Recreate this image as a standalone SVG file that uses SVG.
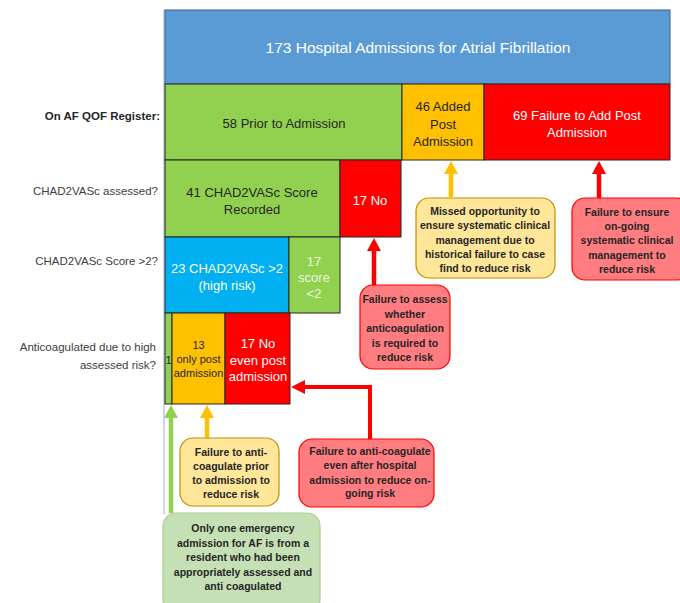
<svg xmlns="http://www.w3.org/2000/svg" width="680" height="603" viewBox="0 0 680 603">
<style>
text{font-family:"Liberation Sans",Arial,sans-serif;text-anchor:middle;dominant-baseline:central}
.lbl{font-size:11.5px;fill:#404040;text-anchor:end}
.box{stroke:#262626;stroke-width:1}
.bt{font-size:13px}
.ct{font-size:10.5px;font-weight:bold;fill:#262626}
.w{fill:#ffffff}
.d{fill:#262626}
.co{fill:#FFE699;stroke:#BF9000;stroke-width:1.2}
.cr{fill:#FF7C80;stroke:#FF0000;stroke-width:1.2}
.cg{fill:#C5E0B4;stroke:#A9D18E;stroke-width:1.2}
</style>
<rect width="680" height="603" fill="#ffffff"/>
<line x1="164" y1="10" x2="164" y2="514" stroke="#B4C7E7" stroke-width="1.5"/>
<g id="labels">
<text class="lbl" x="160" y="116" style="font-weight:bold;fill:#262626">On AF QOF Register:</text>
<text class="lbl" x="158" y="191">CHAD2VASc assessed?</text>
<text class="lbl" x="158" y="261">CHAD2VASc Score &gt;2?</text>
<text class="lbl" x="156" y="347">Anticoagulated due to high</text>
<text class="lbl" x="156" y="365">assessed risk?</text>
</g>
<g id="n-total"><rect class="box" x="165" y="10" width="505" height="74" fill="#5B9BD5" style="stroke:#3A5E8C"/><text class="w" x="418" y="47" font-size="15.5">173 Hospital Admissions for Atrial Fibrillation</text></g>
<g id="n-prior"><rect class="box" x="165" y="84" width="237" height="76" fill="#92D050"/><text class="bt d" x="284" y="123">58 Prior to Admission</text></g>
<g id="n-added"><rect class="box" x="402" y="84" width="82" height="76" fill="#FFC000"/><text class="bt d" x="443" y="106">46 Added</text><text class="bt d" x="443" y="124">Post</text><text class="bt d" x="443" y="141">Admission</text></g>
<g id="n-failadd"><rect class="box" x="484" y="84" width="186" height="76" fill="#FF0000"/><text class="bt w" x="577" y="115">69 Failure to Add Post</text><text class="bt w" x="577" y="132">Admission</text></g>
<g id="n-recorded"><rect class="box" x="165" y="160" width="175" height="77" fill="#92D050"/><text class="bt d" x="252" y="192">41 CHAD2VASc Score</text><text class="bt d" x="252" y="209">Recorded</text></g>
<g id="n-no"><rect class="box" x="340" y="160" width="61" height="77" fill="#FF0000"/><text class="bt w" x="370" y="200">17 No</text></g>
<g id="n-high"><rect class="box" x="165" y="237" width="124" height="76" fill="#00B0F0"/><text class="bt w" x="227" y="268">23 CHAD2VASc &gt;2</text><text class="bt w" x="227" y="285">(high risk)</text></g>
<g id="n-low"><rect class="box" x="289" y="237" width="51" height="76" fill="#92D050"/><text class="bt" fill="#EAF5DE" x="314" y="261">17</text><text class="bt" fill="#EAF5DE" x="314" y="277">score</text><text class="bt" fill="#EAF5DE" x="314" y="293">&lt;2</text></g>
<g id="n-one"><rect class="box" x="165" y="313" width="7" height="91" fill="#92D050"/><text class="d" x="168.5" y="360" font-size="11">1</text></g>
<g id="n-post"><rect class="box" x="172" y="313" width="53" height="91" fill="#FFC000"/><text class="d" x="198.5" y="345" font-size="11">13</text><text class="d" x="198.5" y="359" font-size="11">only post</text><text class="d" x="198.5" y="373" font-size="11">admission</text></g>
<g id="n-never"><rect class="box" x="225" y="313" width="65" height="91" fill="#FF0000"/><text class="bt w" x="258" y="343">17 No</text><text class="bt w" x="258" y="360">even post</text><text class="bt w" x="258" y="376">admission</text></g>
<g id="connectors">
<path d="M451 197V172" stroke="#FFC000" stroke-width="4.5" fill="none"/><path d="M444 174L451 161L458 174Z" fill="#FFC000"/>
<path d="M599 198V172" stroke="#FF0000" stroke-width="4.5" fill="none"/><path d="M592 174L599 161L606 174Z" fill="#FF0000"/>
<path d="M374 285V249" stroke="#FF0000" stroke-width="4.5" fill="none"/><path d="M367 251L374 238L381 251Z" fill="#FF0000"/>
<path d="M207 438V416" stroke="#FFC000" stroke-width="4.5" fill="none"/><path d="M200 418L207 405L214 418Z" fill="#FFC000"/>
<path d="M370 439V387H303" stroke="#FF0000" stroke-width="4" fill="none"/><path d="M305 380L291 387L305 394Z" fill="#FF0000"/>
<path d="M171 513V416" stroke="#92D050" stroke-width="4.5" fill="none"/><path d="M164 418L171 405L178 418Z" fill="#92D050"/>
</g>
<g id="c-missed"><rect class="co" x="416" y="198" width="139" height="80" rx="13"/>
<text class="ct" x="485" y="211">Missed opportunity to</text><text class="ct" x="485" y="225">ensure systematic clinical</text><text class="ct" x="485" y="240">management due to</text><text class="ct" x="485" y="254">historical failure to case</text><text class="ct" x="485" y="268">find to reduce risk</text></g>
<g id="c-ongoing"><rect class="cr" x="572" y="198" width="118" height="82" rx="13"/>
<text class="ct" x="627" y="212">Failure to ensure</text><text class="ct" x="627" y="226">on-going</text><text class="ct" x="627" y="240">systematic clinical</text><text class="ct" x="627" y="255">management to</text><text class="ct" x="627" y="269">reduce risk</text></g>
<g id="c-assess"><rect class="cr" x="360" y="285" width="90" height="84" rx="13"/>
<text class="ct" x="405" y="299">Failure to assess</text><text class="ct" x="405" y="314">whether</text><text class="ct" x="405" y="328">anticoagulation</text><text class="ct" x="405" y="343">is required to</text><text class="ct" x="405" y="357">reduce risk</text></g>
<g id="c-prior"><rect class="co" x="180" y="438" width="99" height="68" rx="13"/>
<text class="ct" x="231" y="452">Failure to anti-</text><text class="ct" x="231" y="466">coagulate prior</text><text class="ct" x="231" y="480">to admission to</text><text class="ct" x="231" y="494">reduce risk</text></g>
<g id="c-after"><rect class="cr" x="299" y="439" width="135" height="68" rx="13"/>
<text class="ct" x="370" y="451">Failure to anti-coagulate</text><text class="ct" x="370" y="465">even after hospital</text><text class="ct" x="370" y="480">admission to reduce on-</text><text class="ct" x="370" y="493">going risk</text></g>
<g id="c-one"><rect class="cg" x="163" y="513" width="157" height="100" rx="13"/>
<text class="ct" x="243" y="528">Only one emergency</text><text class="ct" x="243" y="543">admission for AF is from a</text><text class="ct" x="243" y="557">resident who had  been</text><text class="ct" x="243" y="572">appropriately assessed and</text><text class="ct" x="243" y="586">anti coagulated</text></g>
</svg>
